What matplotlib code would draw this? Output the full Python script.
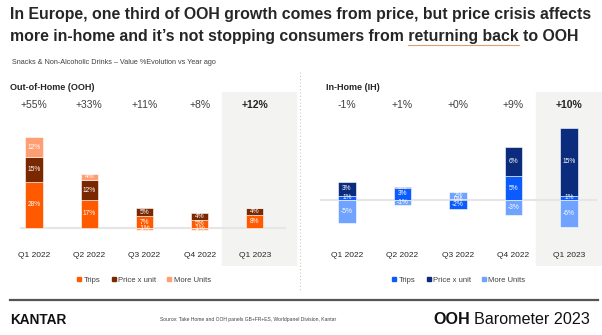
import numpy as np
import matplotlib.pyplot as plt
from matplotlib.patches import Patch
from matplotlib.lines import Line2D

plt.rcParams['font.family'] = ['Liberation Sans', 'DejaVu Sans']

# -----------------------------
# Data
# -----------------------------
quarters = ["Q1 2022", "Q2 2022", "Q3 2022", "Q4 2022", "Q1 2023"]
components = ["Trips", "Price x unit", "More Units"]

ooh_trips = [28, 17, 7, 5, 8]
ooh_price = [15, 12, 5, 4, 4]
ooh_units = [12, 4, -1, -1, 0]
ooh_totals = ["+55%", "+33%", "+11%", "+8%", "+12%"]

ih_trips = [1, 2.7, -2, 5.3, 1]
ih_price = [3, 0.3, 0.3, 6.5, 15]
ih_units = [-5, -1, 1.5, -3.3, -6]
ih_totals = ["-1%", "+1%", "+0%", "+9%", "+10%"]

ooh_colors = ["#FF5A00", "#7A2800", "#FF9E72"]
ih_colors = ["#0A5CFF", "#0B2C7C", "#6FA3FF"]

W, H = 602, 335
fig = plt.figure(figsize=(W / 100, H / 100), dpi=100)
renderer = fig.canvas.get_renderer()


def px_box(x0, y0, x1, y1):
    # pixel box (top-left origin) -> figure fraction rect
    return [x0 / W, 1 - y1 / H, (x1 - x0) / W, (y1 - y0) / H]


def fx(x):
    return x / W


def fy(y):
    return 1 - y / H


def text_w(s, **kw):
    t = fig.text(0, 0, s, **kw)
    w = t.get_window_extent(renderer).width
    t.remove()
    return w


# -----------------------------
# Title / subtitle
# -----------------------------
title_kw = dict(fontsize=11.4, fontweight="bold", color="#262626")
line2_a = "more in-home and it\u2019s not stopping consumers from "
line2_b = "returning back"
fig.text(fx(10), fy(15), "In Europe, one third of OOH growth comes from price, but price crisis affects",
         va="center", **title_kw)
fig.text(fx(10), fy(36), line2_a + line2_b + " to OOH", va="center", **title_kw)
u0 = 10 + text_w(line2_a, **title_kw)
u1 = 10 + text_w(line2_a + line2_b, **title_kw)
fig.add_artist(Line2D([fx(u0), fx(u1)], [fy(45), fy(45)], color="#D9A070", lw=0.8))
fig.text(fx(12), fy(62), "Snacks & Non-Alcoholic Drinks \u2013 Value %Evolution vs Year ago",
         fontsize=5.2, color="#404040", va="center")

# separator
fig.add_artist(Line2D([fx(300), fx(300)], [fy(72), fy(292)], color="#C8C8C8", lw=0.8, ls=(0, (1, 2))))


# -----------------------------
# Panels
# -----------------------------
def panel(box, xlim, ylim, trips, price, units, totals, colors, title, title_x, zmax):
    ax = fig.add_axes(px_box(*box))
    ax.set_xlim(*xlim)
    ax.set_ylim(*ylim)
    ax.axis("off")
    x = np.arange(len(quarters))

    ax.axvspan(3.41, 4.75, ymin=0, ymax=1, color="#F3F3F1", zorder=0)
    ax.axhline(0, xmin=0.07, xmax=zmax, color="#E6E6E6", lw=1.5, zorder=1)

    pos_base = np.zeros(len(x))
    neg_base = np.zeros(len(x))
    for vals, col in zip([trips, price, units], colors):
        vals = np.array(vals, dtype=float)
        bottom = np.where(vals >= 0, pos_base, neg_base)
        ax.bar(x, vals, 0.31, bottom=bottom, color=col, edgecolor="white", lw=0.4, zorder=2)
        for xi, v, b in zip(x, vals, bottom):
            if v != 0:
                ax.text(xi, b + v / 2, "%d%%" % round(v), ha="center", va="center",
                        color="white", fontsize=4.8, zorder=3)
        pos_base = pos_base + np.where(vals >= 0, vals, 0)
        neg_base = neg_base + np.where(vals < 0, vals, 0)

    tr = ax.get_xaxis_transform()
    for i, (q, t) in enumerate(zip(quarters, totals)):
        last = i == len(quarters) - 1
        ax.text(i, 0.925, t, transform=tr, ha="center", va="center", fontsize=7.5,
                color="#262626" if last else "#404040", fontweight="bold" if last else "normal")
        ax.text(i, 0.063, q, transform=tr, ha="center", va="center", fontsize=6, color="#262626")

    fig.text(fx(title_x), fy(87), title, fontsize=6.5, fontweight="bold", color="#262626", va="center")
    return ax


panel((0, 92, 300, 266), (-34 / 55.2, 266 / 55.2), (-38 / 1.65, 136 / 1.65),
      ooh_trips, ooh_price, ooh_units, ooh_totals, ooh_colors, "Out-of-Home (OOH)", 10, 0.95)
panel((300, 92, 602, 266), (-47 / 55.5, 255 / 55.5), (-66 / 4.5, 108 / 4.5),
      ih_trips, ih_price, ih_units, ih_totals, ih_colors, "In-Home (IH)", 326, 0.98)

# legends
for cols, cx in [(ooh_colors, 144), (ih_colors, 459)]:
    handles = [Patch(color=c, label=l) for c, l in zip(cols, components)]
    fig.legend(handles=handles, loc="center", bbox_to_anchor=(fx(cx), fy(280)), ncol=3,
               frameon=False, fontsize=5.5, handlelength=0.5, handleheight=0.5,
               handletextpad=0.3, columnspacing=1.5, labelcolor="#404040")

# -----------------------------
# Footer
# -----------------------------
fig.add_artist(Line2D([fx(10), fx(598)], [fy(300), fy(300)], color="#555555", lw=1.6))
fig.text(fx(10), fy(320), "KANTAR", fontsize=9.8, fontweight="bold", color="#111111", va="center")
fig.text(fx(160), fy(319), "Source: Take Home and OOH panels GB+FR+ES, Worldpanel Division, Kantar",
         fontsize=3.6, color="#404040", va="center")
brand_kw = dict(fontsize=11.6, color="#111111", va="center")
fig.text(fx(433), fy(320), "OOH", fontweight="bold", **brand_kw)
bx = 433 + text_w("OOH ", fontweight="bold", **brand_kw)
fig.text(fx(bx), fy(320), "Barometer 2023", **brand_kw)

plt.savefig("out.png", dpi=100)
